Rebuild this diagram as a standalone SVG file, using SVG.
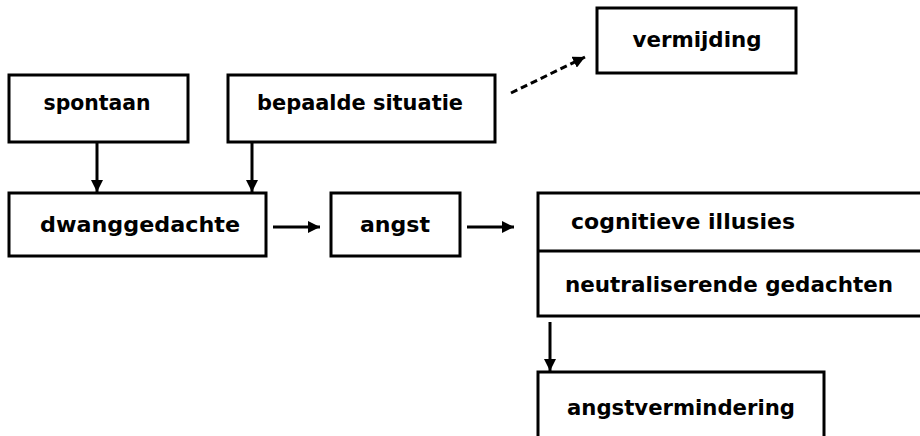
<svg xmlns="http://www.w3.org/2000/svg" width="920" height="436" viewBox="0 0 920 436">
<defs>
<style>
.box{fill:#fff;stroke:#000;stroke-width:3}
.t{font-family:"DejaVu Sans","Liberation Sans",sans-serif;font-weight:bold;font-size:21px;fill:#000}
.c{text-anchor:middle}
.e{stroke:#000;stroke-width:3;fill:none}
.d{stroke-dasharray:7 4}
</style>
<marker id="ah" viewBox="0 0 10 10" refX="10" refY="5" markerWidth="4" markerHeight="4" orient="auto" markerUnits="strokeWidth">
<path d="M0,0 L10,5 L0,10 z" fill="#000"/>
</marker>
</defs>
<rect width="920" height="436" fill="#fff"/>
<g id="vermijding"><rect class="box" x="597" y="8" width="199" height="65"/><text class="t c" x="697" y="47" textLength="129" lengthAdjust="spacingAndGlyphs">vermijding</text></g>
<g id="spontaan"><rect class="box" x="9" y="75" width="179" height="67"/><text class="t c" x="97" y="110" textLength="107" lengthAdjust="spacingAndGlyphs">spontaan</text></g>
<g id="bepaalde-situatie"><rect class="box" x="228" y="75" width="267" height="67"/><text class="t c" x="360" y="110" textLength="206" lengthAdjust="spacingAndGlyphs">bepaalde situatie</text></g>
<g id="dwanggedachte"><rect class="box" x="9" y="193" width="257" height="63"/><text class="t c" x="140" y="232" textLength="200" lengthAdjust="spacingAndGlyphs">dwanggedachte</text></g>
<g id="angst"><rect class="box" x="331" y="193" width="129" height="63"/><text class="t c" x="395" y="232" textLength="70" lengthAdjust="spacingAndGlyphs">angst</text></g>
<g id="cognitie"><rect class="box" x="538" y="193" width="400" height="123"/><line x1="538" y1="251" x2="938" y2="251" stroke="#000" stroke-width="3"/><text class="t" x="571" y="229" textLength="224" lengthAdjust="spacingAndGlyphs">cognitieve illusies</text><text class="t" x="565" y="292" textLength="328" lengthAdjust="spacingAndGlyphs">neutraliserende gedachten</text></g>
<g id="angstvermindering"><rect class="box" x="538" y="372" width="286" height="80"/><text class="t c" x="681" y="415" textLength="228" lengthAdjust="spacingAndGlyphs">angstvermindering</text></g>
<g id="connectors">
<line class="e" x1="97" y1="142" x2="97" y2="192" marker-end="url(#ah)"/>
<line class="e" x1="252" y1="142" x2="252" y2="192" marker-end="url(#ah)"/>
<line class="e" x1="273" y1="227" x2="320" y2="227" marker-end="url(#ah)"/>
<line class="e" x1="467" y1="227" x2="514" y2="227" marker-end="url(#ah)"/>
<line class="e" x1="550" y1="322" x2="550" y2="371" marker-end="url(#ah)"/>
<line class="e d" x1="511" y1="93" x2="585" y2="57" marker-end="url(#ah)"/>
</g>
</svg>
